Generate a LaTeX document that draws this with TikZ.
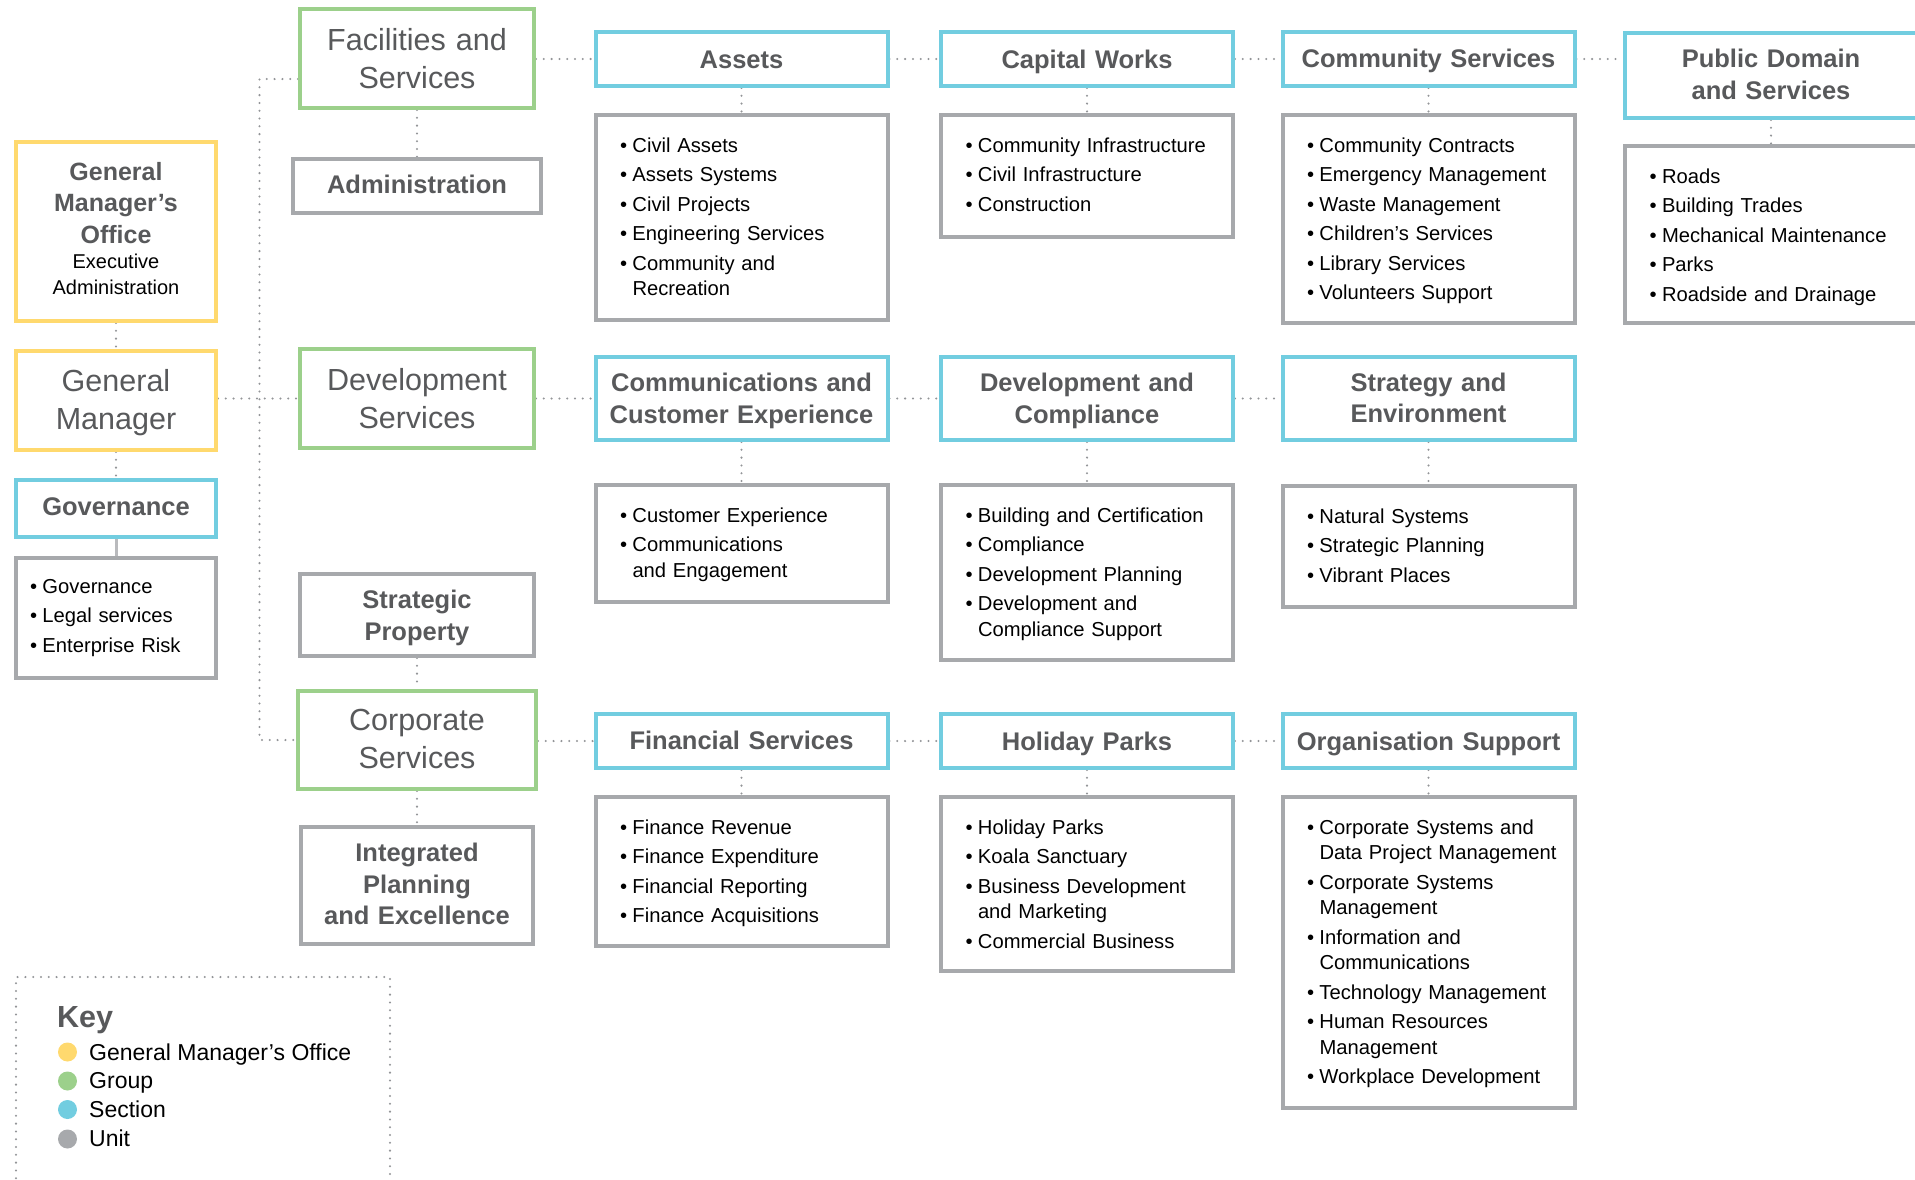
\documentclass[tikz,border=0pt]{standalone}
\usepackage{fontspec}
\setmainfont{Liberation Sans}
\usetikzlibrary{backgrounds}
\setlength{\parindent}{0pt}
\definecolor{gmoY}{HTML}{FFD96E}
\definecolor{grpG}{HTML}{9CD08B}
\definecolor{secC}{HTML}{72CDE0}
\definecolor{unitG}{HTML}{A7A9AC}
\definecolor{titleG}{HTML}{58595B}
\definecolor{dotG}{HTML}{939598}
\newcommand{\bl}[1]{\makebox[12.5pt][l]{•}\mbox{#1}}
\newcommand{\cl}[1]{\hspace*{12.5pt}\mbox{#1}}
\newcommand{\nx}{\\[4pt]}
\begin{document}
\begin{tikzpicture}[x=1pt,y=-1pt,
  base/.style={rectangle, line width=4pt, fill=white, inner sep=0pt, text=titleG},
  hd/.style 2 args={text height=#1pt, text depth=#2pt},
  gmobox/.style={base, draw=gmoY},
  grpbox/.style={base, draw=grpG, font=\fontsize{30.5}{38}\selectfont, align=center},
  secbox/.style={base, draw=secC, font=\fontsize{25.5}{31.6}\selectfont\bfseries, align=center},
  unitttl/.style={base, draw=unitG, font=\fontsize{25.5}{31.6}\selectfont\bfseries, align=center},
  unitlist/.style={base, draw=unitG, text=black, font=\fontsize{20.2}{25.5}\selectfont, align=left, text width=243pt, inner xsep=24.5pt},
  colbox/.style={text width=292pt},
  conn/.style={draw=dotG, line width=2.3pt, dash pattern=on 0pt off 7.8pt, line cap=round},
  solidconn/.style={draw=unitG!80, line width=3pt},
  keydot/.style={circle, inner sep=0pt, minimum size=19pt},
  keytxt/.style={anchor=base west, inner sep=0pt, text=black, font=\fontsize{23}{28}\selectfont},
]
\useasboundingbox (0,0) rectangle (1915,1179);

% ---------- left column ----------
\node[gmobox, text width=200pt, align=center, hd={38}{141}] (gmo) at (116,231.5)
  {{\fontsize{25}{31.6}\selectfont\bfseries General\\Manager’s\\Office\par}{\color{black}\fontsize{20}{25.5}\selectfont Executive\\Administration\par}};
\node[grpbox, draw=gmoY, text width=200pt, hd={40}{59}] (gm) at (116,400.5) {General\\Manager};
\node[secbox, text width=200pt, hd={35}{22}] (gov) at (116,508.5) {Governance};
\node[unitlist, text width=172pt, inner xsep=14pt, hd={35}{85}] (govu) at (116,618)
  {\bl{Governance}\nx\bl{Legal services}\nx\bl{Enterprise Risk}};

% ---------- group column ----------
\node[grpbox, text width=234pt, hd={41}{58}] (fac) at (417,58.5) {Facilities and\\Services};
\node[unitttl, text width=248pt, hd={34.5}{19.5}] (adm) at (417,186) {Administration};
\node[grpbox, text width=234pt, hd={41.5}{57.5}] (dev) at (417,398.5) {Development\\Services};
\node[unitttl, text width=234pt, hd={34.5}{47.5}] (sp) at (417,615) {Strategic\\Property};
\node[grpbox, text width=238pt, hd={39.5}{58.5}] (corp) at (417,740) {Corporate\\Services};
\node[unitttl, text width=232pt, hd={34.7}{82.3}] (ipe) at (417,885.5) {Integrated\\Planning\\and Excellence};

% ---------- column C ----------
\node[secbox, colbox, hd={36}{18}] (assets) at (741.5,59) {Assets};
\node[unitlist, hd={37}{168}] (assetsu) at (741.5,217.5)
  {\bl{Civil Assets}\nx\bl{Assets Systems}\nx\bl{Civil Projects}\nx\bl{Engineering Services}\nx\bl{Community and}\\\cl{Recreation}};
\node[secbox, colbox, hd={34.5}{48.5}] (comms) at (741.5,398.5) {Communications and\\Customer Experience};
\node[unitlist, hd={37}{80}] (commsu) at (741.5,543.5)
  {\bl{Customer Experience}\nx\bl{Communications}\\\cl{and Engagement}};
\node[secbox, colbox, hd={35.5}{18.5}] (fin) at (741.5,741) {Financial Services};
\node[unitlist, hd={37}{112}] (finu) at (741.5,871.5)
  {\bl{Finance Revenue}\nx\bl{Finance Expenditure}\nx\bl{Financial Reporting}\nx\bl{Finance Acquisitions}};

% ---------- column D ----------
\node[secbox, colbox, hd={36}{18}] (cw) at (1087,59) {Capital Works};
\node[unitlist, hd={37}{85}] (cwu) at (1087,176)
  {\bl{Community Infrastructure}\nx\bl{Civil Infrastructure}\nx\bl{Construction}};
\node[secbox, colbox, hd={34.5}{48.5}] (dc) at (1087,398.5) {Development and\\Compliance};
\node[unitlist, hd={37}{138}] (dcu) at (1087,572.5)
  {\bl{Building and Certification}\nx\bl{Compliance}\nx\bl{Development Planning}\nx\bl{Development and}\\\cl{Compliance Support}};
\node[secbox, colbox, hd={36}{18}] (hp) at (1087,741) {Holiday Parks};
\node[unitlist, hd={37}{137}] (hpu) at (1087,884)
  {\bl{Holiday Parks}\nx\bl{Koala Sanctuary}\nx\bl{Business Development}\\\cl{and Marketing}\nx\bl{Commercial Business}};

% ---------- column E ----------
\node[secbox, colbox, hd={35.5}{18.5}] (cs) at (1428.5,59) {Community Services};
\node[unitlist, hd={37}{171}] (csu) at (1428.5,219)
  {\bl{Community Contracts}\nx\bl{Emergency Management}\nx\bl{Waste Management}\nx\bl{Children’s Services}\nx\bl{Library Services}\nx\bl{Volunteers Support}};
\node[secbox, colbox, hd={34.3}{48.7}] (se) at (1428.5,398.5) {Strategy and\\Environment};
\node[unitlist, hd={37}{84}] (seu) at (1428.5,546.5)
  {\bl{Natural Systems}\nx\bl{Strategic Planning}\nx\bl{Vibrant Places}};
\node[secbox, colbox, hd={36}{18}] (os) at (1428.5,741) {Organisation Support};
\node[unitlist, hd={37}{274}] (osu) at (1428.5,952.5)
  {\bl{Corporate Systems and}\\\cl{Data Project Management}\nx\bl{Corporate Systems}\\\cl{Management}\nx\bl{Information and}\\\cl{Communications}\nx\bl{Technology Management}\nx\bl{Human Resources}\\\cl{Management}\nx\bl{Workplace Development}};

% ---------- column F ----------
\node[secbox, colbox, hd={34.6}{50.4}] (pd) at (1771,75.5) {Public Domain\\and Services};
\node[unitlist, hd={37}{140}] (pdu) at (1771,234.5)
  {\bl{Roads}\nx\bl{Building Trades}\nx\bl{Mechanical Maintenance}\nx\bl{Parks}\nx\bl{Roadside and Drainage}};

% ---------- key ----------
\coordinate (kA) at (16,1186);
\coordinate (kB) at (16,977);
\coordinate (kC) at (390,977);
\coordinate (kD) at (390,1186);
\node[anchor=base west, inner sep=0pt, text=titleG, font=\fontsize{30.5}{36}\selectfont\bfseries] (keyt) at (57,1027) {Key};
\node[keydot, fill=gmoY] (kd1) at (67.5,1052) {};
\node[keydot, fill=grpG] (kd2) at (67.5,1081) {};
\node[keydot, fill=secC] (kd3) at (67.5,1109.5) {};
\node[keydot, fill=unitG] (kd4) at (67.5,1139) {};
\node[keytxt] (kt1) at (89,1060) {General Manager’s Office};
\node[keytxt] (kt2) at (89,1088.5) {Group};
\node[keytxt] (kt3) at (89,1117) {Section};
\node[keytxt] (kt4) at (89,1146.5) {Unit};

% ---------- connectors ----------
\begin{scope}[on background layer]
\coordinate (tTop) at (259.5,79);
\coordinate (tBot) at (259.5,740);
\draw[conn] (fac.west |- tTop) -- (tTop) -- (tBot) -- (corp.west);
\draw[conn] (gm.east |- dev.west) -- (dev.west);
\draw[conn] (gmo.south) -- (gm.north);
\draw[conn] (gm.south) -- (gov.north);
\draw[solidconn] (gov.south) -- (govu.north);
\draw[conn] (fac.south) -- (adm.north);
\draw[conn] (sp.south) -- (corp.north);
\draw[conn] (corp.south) -- (ipe.north);
% rows
\draw[conn] (fac.east |- assets.west) -- (assets.west);
\draw[conn] (assets.east) -- (cw.west);
\draw[conn] (cw.east) -- (cs.west);
\draw[conn] (cs.east) -- (pd.west |- cs.east);
\draw[conn] (dev.east) -- (comms.west);
\draw[conn] (comms.east) -- (dc.west);
\draw[conn] (dc.east) -- (se.west);
\draw[conn] (corp.east |- fin.west) -- (fin.west);
\draw[conn] (fin.east) -- (hp.west);
\draw[conn] (hp.east) -- (os.west);
% section to unit
\draw[conn] (assets.south) -- (assetsu.north);
\draw[conn] (cw.south) -- (cwu.north);
\draw[conn] (cs.south) -- (csu.north);
\draw[conn] (pd.south) -- (pdu.north);
\draw[conn] (comms.south) -- (commsu.north);
\draw[conn] (dc.south) -- (dcu.north);
\draw[conn] (se.south) -- (seu.north);
\draw[conn] (fin.south) -- (finu.north);
\draw[conn] (hp.south) -- (hpu.north);
\draw[conn] (os.south) -- (osu.north);
% key frame
\draw[conn] (kA) -- (kB) -- (kC) -- (kD);
\end{scope}
\end{tikzpicture}
\end{document}
